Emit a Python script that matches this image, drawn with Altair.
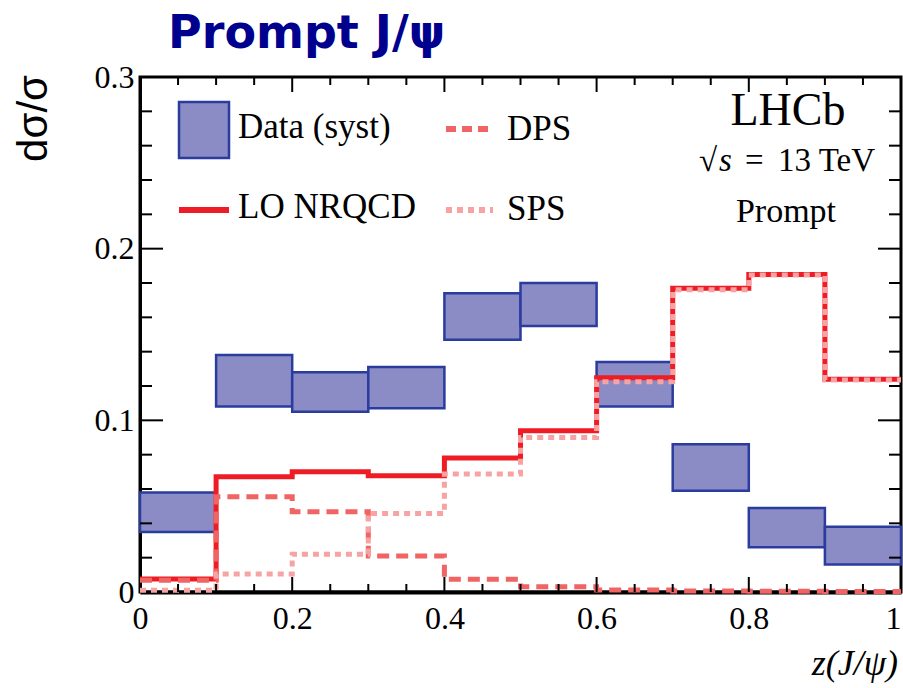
import altair as alt
import pandas as pd

# ---- data ----
bin_lo = [0.0, 0.1, 0.2, 0.3, 0.4, 0.5, 0.6, 0.7, 0.8, 0.9]
bin_hi = [0.1, 0.2, 0.3, 0.4, 0.5, 0.6, 0.7, 0.8, 0.9, 1.0]
data_low = [0.035, 0.108, 0.105, 0.107, 0.147, 0.155, 0.108, 0.059, 0.026, 0.016]
data_high = [0.058, 0.138, 0.128, 0.131, 0.174, 0.180, 0.134, 0.086, 0.049, 0.038]
nrqcd = [0.0076, 0.0672, 0.0700, 0.0677, 0.0780, 0.0940, 0.1248, 0.1769, 0.1850, 0.1239]
dps = [0.0068, 0.0555, 0.0468, 0.0210, 0.0074, 0.0030, 0.0012, 0.0006, 0.0004, 0.0003]
sps = [0.0010, 0.0105, 0.0220, 0.0458, 0.0687, 0.0900, 0.1225, 0.1760, 0.1846, 0.1235]

x_labels = [0, 0.2, 0.4, 0.6, 0.8, 1.0]
y_labels = [0, 0.1, 0.2, 0.3]
x_major = [0.2, 0.4, 0.6, 0.8]
x_minor = [0.05, 0.1, 0.15, 0.25, 0.3, 0.35, 0.45, 0.5, 0.55, 0.65, 0.7, 0.75, 0.85, 0.9, 0.95]
y_major = [0.1, 0.2]
y_minor = [0.02, 0.04, 0.06, 0.08, 0.12, 0.14, 0.16, 0.18, 0.22, 0.24, 0.26, 0.28]

W, H = 761, 515
SERIF = "Liberation Serif"

xs = alt.Scale(domain=[0, 1], nice=False, zero=False)
ys = alt.Scale(domain=[0, 0.3], nice=False, zero=False)

AX = alt.Axis(values=x_labels, ticks=False, tickSize=0, domain=True, domainColor="black",
              domainWidth=4, grid=False, labelFont=SERIF, labelFontSize=32, labelColor="black",
              labelPadding=11, labelFlush=False, labelOverlap=False,
              labelAlign={"condition": {"test": "datum.value == 1", "value": "right"}, "value": "center"},
              labelExpr="datum.value == 0 ? '0' : datum.value == 1 ? '1' : format(datum.value, '.1f')")
AY = alt.Axis(values=y_labels, ticks=False, tickSize=0, domain=True, domainColor="black",
              domainWidth=3, grid=False, labelFont=SERIF, labelFontSize=32, labelColor="black",
              labelPadding=6, labelOverlap=False,
              labelExpr="datum.value == 0 ? '0' : format(datum.value, '.1f')")


def X(field):
    return alt.X(field, scale=xs, axis=AX, title=None)


def Y(field):
    return alt.Y(field, scale=ys, axis=AY, title=None)


boxes = pd.DataFrame({"lo": bin_lo, "hi": bin_hi, "low": data_low, "high": data_high})


def step_df(vals):
    return pd.DataFrame({"x": bin_lo + [bin_hi[-1]], "v": vals + [vals[-1]]})


rects = alt.Chart(boxes).mark_rect(
    fill="#8b8bc5", stroke="#2b3c9f", strokeWidth=2.5
).encode(x=X("lo:Q"), x2="hi:Q", y=Y("low:Q"), y2="high:Q")


def step_line(vals, color, dash=None):
    kw = dict(color=color, strokeWidth=5, interpolate="step-after", strokeCap="butt")
    if dash:
        kw["strokeDash"] = dash
    return alt.Chart(step_df(vals)).mark_line(**kw).encode(x=X("x:Q"), y=Y("v:Q"))


l_nrqcd = step_line(nrqcd, "#ee1c24")
l_dps = step_line(dps, "#f06464", [12, 7])
l_sps = step_line(sps, "#f7a3a3", [6, 5])


# ---- ticks (inward, all four sides) ----
def xticks(vals, y0, y1):
    return alt.Chart(pd.DataFrame({"t": vals})).mark_rule(color="black", strokeWidth=2).encode(
        x=X("t:Q"), y=alt.value(y0), y2=alt.value(y1))


def yticks(vals, x0, x1):
    return alt.Chart(pd.DataFrame({"t": vals})).mark_rule(color="black", strokeWidth=2).encode(
        y=Y("t:Q"), x=alt.value(x0), x2=alt.value(x1))


ticks = [
    xticks(x_major, H, H - 15), xticks(x_minor, H, H - 8),
    xticks(x_major, 0, 15), xticks(x_minor, 0, 8),
    yticks(y_major, 0, 23), yticks(y_minor, 0, 12),
    yticks(y_major, W, W - 23), yticks(y_minor, W, W - 12),
]

one = pd.DataFrame({"a": [0]})


def txt(text, x, y, size, align="left", baseline="alphabetic", font=SERIF, style="normal",
        weight="normal", color="black", angle=0):
    return alt.Chart(one).mark_text(
        text=text, align=align, baseline=baseline, font=font, fontSize=size,
        fontStyle=style, fontWeight=weight, color=color, angle=angle
    ).encode(x=alt.value(x), y=alt.value(y))


texts = [
    txt("Prompt J/\u03c8", 28, -29, 46, font="DejaVu Sans", weight="bold", color="#00008f"),
    txt("d\u03c3/\u03c3", -93, -2, 42, align="right", font="Liberation Sans", angle=270),
    txt("z(J/\u03c8)", 758, 598, 36, align="right", style="italic"),
    txt("LHCb", 648, 48, 46, align="center"),
    txt("\u221a", 559, 94, 33),
    txt("s", 579, 94, 33, style="italic"),
    txt("=", 605, 94, 33),
    txt("13 TeV", 638, 94, 33),
    txt("Prompt", 646, 145, 34, align="center"),
    txt("Data (syst)", 98, 61, 35),
    txt("LO NRQCD", 98, 141, 35),
    txt("DPS", 367, 63, 35),
    txt("SPS", 367, 143, 35),
]

leg = [
    alt.Chart(one).mark_rect(fill="#8b8bc5", stroke="#2b3c9f", strokeWidth=2.5).encode(
        x=alt.value(39), x2=alt.value(89), y=alt.value(25), y2=alt.value(81)),
    alt.Chart(one).mark_rule(color="#ee1c24", strokeWidth=6).encode(
        x=alt.value(39), x2=alt.value(89), y=alt.value(133)),
    alt.Chart(one).mark_rule(color="#f06464", strokeWidth=6, strokeDash=[10, 6], strokeCap="butt").encode(
        x=alt.value(306), x2=alt.value(348), y=alt.value(52)),
    alt.Chart(one).mark_rule(color="#f7a3a3", strokeWidth=6, strokeDash=[6, 5], strokeCap="butt").encode(
        x=alt.value(306), x2=alt.value(353), y=alt.value(133)),
]

chart = alt.layer(rects, l_nrqcd, l_dps, l_sps, *ticks, *leg, *texts).properties(
    width=W, height=H,
    padding={"left": 140, "top": 77, "right": 2, "bottom": 96},
    autosize=alt.AutoSizeParams(type="none"),
    background="white",
).configure_view(stroke="black", strokeWidth=3)

chart.save("out.html", embed_options={"renderer": "svg", "actions": False})
